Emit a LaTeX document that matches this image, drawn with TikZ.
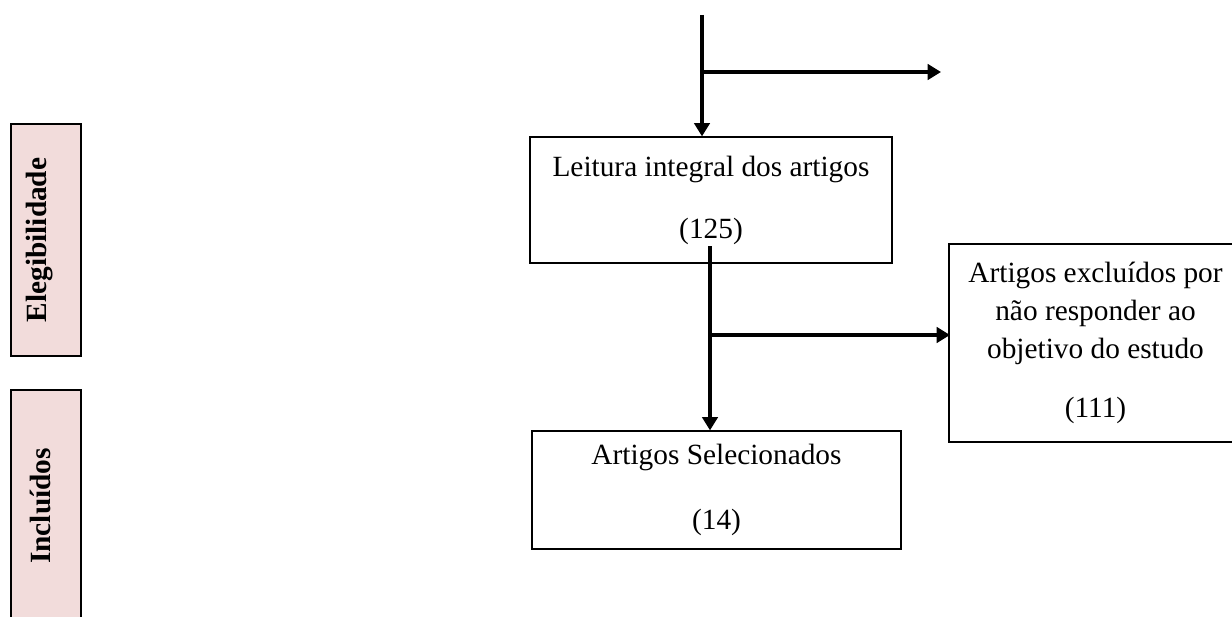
\documentclass[tikz,border=0pt]{standalone}
\usepackage{fontspec}
\setmainfont{Liberation Serif}
\usetikzlibrary{arrows.meta}
\definecolor{sidepink}{HTML}{F2DCDB}
\tikzset{
  flowbox/.style={draw=black, line width=0.9pt, rectangle, align=center, inner sep=0pt,
    font=\fontsize{22}{28.5}\selectfont},
  sidebox/.style={draw=black, line width=1pt, fill=sidepink, rectangle, inner sep=0pt,
    minimum width=70*0.75pt, minimum height=232*0.75pt},
  sidelabel/.style={rotate=90, font=\fontsize{22}{26}\selectfont\bfseries},
  flowarrow/.style={line width=3.6pt, -{Triangle[length=10pt,width=11.5pt]}},
  flowline/.style={line width=3.6pt}
}
\begin{document}
\begin{tikzpicture}[x=0.75pt,y=-0.75pt]
\clip (0,0) rectangle (1232,617);
\fill[white] (0,0) rectangle (1232,617);

% side labels
\node[sidebox] (eleg) at (46,240) {};
\node[sidelabel] (elegtxt) at (40,240) {Elegibilidade};
\node[sidebox] (incl) at (46,506) {};
\node[sidelabel] (incltxt) at (40,506) {Incluídos};

% main boxes
\node[flowbox, minimum width=362*0.75pt, minimum height=126*0.75pt] (leitura) at (711,200)
  {Leitura integral dos artigos\\[18pt](125)};
\node[flowbox, minimum width=369*0.75pt, minimum height=118*0.75pt] (sel) at (716.5,490)
  {Artigos Selecionados\\[20pt](14)};
\node[flowbox, minimum width=293*0.75pt, minimum height=198*0.75pt] (excl) at (1095.5,343)
  {Artigos excluídos por\\não responder ao\\objetivo do estudo\\[16pt](111)};

% coordinates
\coordinate (topstart) at (702,15);
\coordinate (topbranch) at (702,72);
\coordinate (topend) at (941,72);
\coordinate (midstart) at (710,246);
\coordinate (midbranch) at (710,335);
\coordinate (midend) at (950,335);

% connectors
\draw[flowarrow] (topstart) -- (topstart |- leitura.north);
\draw[flowarrow] (topbranch) -- (topend);
\draw[flowarrow] (midstart) -- (midstart |- sel.north);
\draw[flowarrow] (midbranch) -- (midend);
\end{tikzpicture}
\end{document}
